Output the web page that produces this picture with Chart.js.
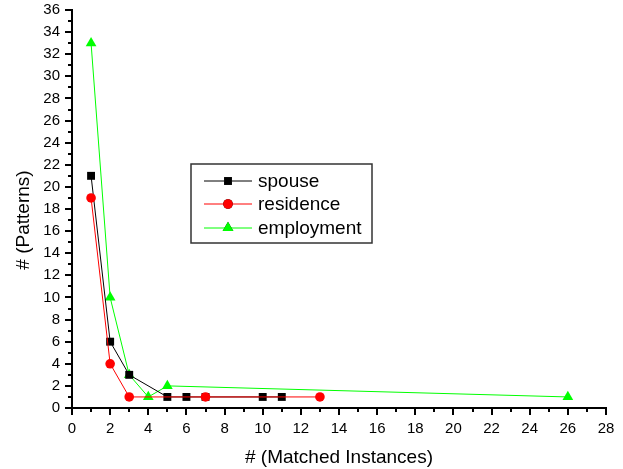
<!DOCTYPE html>
<html><head><meta charset="utf-8">
<script src="https://cdn.jsdelivr.net/npm/chart.js@4/dist/chart.umd.min.js"></script>
<style>html,body{margin:0;padding:0;background:#fff;}#wrap{width:623px;height:469px;}</style>
</head><body><div id="wrap"><canvas id="c" width="623" height="469"></canvas></div>
<script>
const seriesNames = ['spouse', 'residence', 'employment'];
const spouseX = [1, 2, 3, 5, 6, 7, 10, 11];
const spouseY = [21, 6, 3, 1, 1, 1, 1, 1];
const residenceX = [1, 2, 3, 7, 13];
const residenceY = [19, 4, 1, 1, 1];
const employmentX = [1, 2, 3, 4, 5, 26];
const employmentY = [33, 10, 3, 1, 2, 1];
const xTitle = '# (Matched Instances)';
const yTitle = '# (Patterns)';

const FONT = '"Liberation Sans", Arial, sans-serif';
const pts = (xs, ys) => xs.map((x, i) => ({x: x, y: ys[i]}));

const extras = {
  id: 'extras',
  afterDraw(chart) {
    const ctx = chart.ctx;
    const xs = chart.scales.x, ys = chart.scales.y;
    ctx.save();
    ctx.strokeStyle = '#000';
    ctx.lineWidth = 2;
    for (let v = 0; v <= 28; v++) {
      const p = Math.round(xs.getPixelForValue(v));
      const len = v % 2 === 0 ? 7 : 4;
      ctx.beginPath(); ctx.moveTo(p, ys.bottom); ctx.lineTo(p, ys.bottom + len); ctx.stroke();
    }
    for (let v = 0; v <= 36; v++) {
      const p = Math.round(ys.getPixelForValue(v));
      const len = v % 2 === 0 ? 7 : 4;
      ctx.beginPath(); ctx.moveTo(xs.left, p); ctx.lineTo(xs.left - len, p); ctx.stroke();
    }
    // y title
    ctx.save();
    ctx.translate(24, 220);
    ctx.rotate(-Math.PI / 2);
    ctx.fillStyle = '#000';
    ctx.font = '19px ' + FONT;
    ctx.textAlign = 'center';
    ctx.textBaseline = 'middle';
    ctx.fillText(yTitle, 0, 0);
    ctx.restore();
    // legend
    const bx = 191, by = 164, bw = 181, bh = 79;
    ctx.fillStyle = '#fff';
    ctx.fillRect(bx, by, bw, bh);
    ctx.lineWidth = 1.5;
    ctx.strokeStyle = '#333';
    ctx.strokeRect(bx, by, bw, bh);
    const rows = [181, 204, 228];
    chart.data.datasets.forEach((ds, i) => {
      const y = rows[i];
      ctx.strokeStyle = ds.borderColor;
      ctx.lineWidth = 1;
      ctx.beginPath(); ctx.moveTo(204, y); ctx.lineTo(252, y); ctx.stroke();
      Chart.helpers.drawPoint(ctx, {pointStyle: ds.pointStyle, radius: ds.pointRadius, borderWidth: 0}, 228, y);
      ctx.fillStyle = ds.pointBackgroundColor;
      ctx.fill();
      ctx.fillStyle = '#000';
      ctx.font = '19px ' + FONT;
      ctx.textBaseline = 'middle';
      ctx.textAlign = 'left';
      ctx.fillText(ds.label, 258, y + 1);
    });
    ctx.restore();
  }
};

new Chart(document.getElementById('c'), {
  type: 'scatter',
  data: {
    datasets: [
      {label: seriesNames[0], data: pts(spouseX, spouseY), showLine: true, borderColor: '#000', backgroundColor: '#000', pointBackgroundColor: '#000', pointBorderWidth: 0, borderWidth: 1, pointStyle: 'rect', pointRadius: 5.6, order: 2},
      {label: seriesNames[1], data: pts(residenceX, residenceY), showLine: true, borderColor: '#ff0000', backgroundColor: '#ff0000', pointBackgroundColor: '#ff0000', pointBorderWidth: 0, borderWidth: 1, pointStyle: 'circle', pointRadius: 4.8, order: 1},
      {label: seriesNames[2], data: pts(employmentX, employmentY), showLine: true, borderColor: '#00ff00', backgroundColor: '#00ff00', pointBackgroundColor: '#00ff00', pointBorderWidth: 0, borderWidth: 1, pointStyle: 'triangle', pointRadius: 6.2, order: 3}
    ]
  },
  options: {
    responsive: false,
    animation: false,
    layout: {padding: {top: 10, right: 17, left: 0, bottom: 0}},
    plugins: {legend: {display: false}, tooltip: {enabled: false}},
    elements: {line: {tension: 0}},
    scales: {
      x: {
        type: 'linear', min: 0, max: 28,
        afterFit(s) { s.height = 61; s.paddingRight = 0; s.paddingLeft = 0; },
        grid: {display: false, drawTicks: false},
        border: {display: true, color: '#000', width: 2},
        ticks: {stepSize: 2, padding: 12, color: '#000', font: {family: FONT, size: 15}},
        title: {display: true, text: xTitle, color: '#000', font: {family: FONT, size: 19}, padding: {top: 0, bottom: 0}}
      },
      y: {
        type: 'linear', min: 0, max: 36,
        afterFit(s) { s.width = 72; s.paddingTop = 0; s.paddingBottom = 0; },
        grid: {display: false, drawTicks: false},
        border: {display: true, color: '#000', width: 2},
        ticks: {stepSize: 2, padding: 12, color: '#000', font: {family: FONT, size: 15}}
      }
    }
  },
  plugins: [extras]
});
</script></body></html>
